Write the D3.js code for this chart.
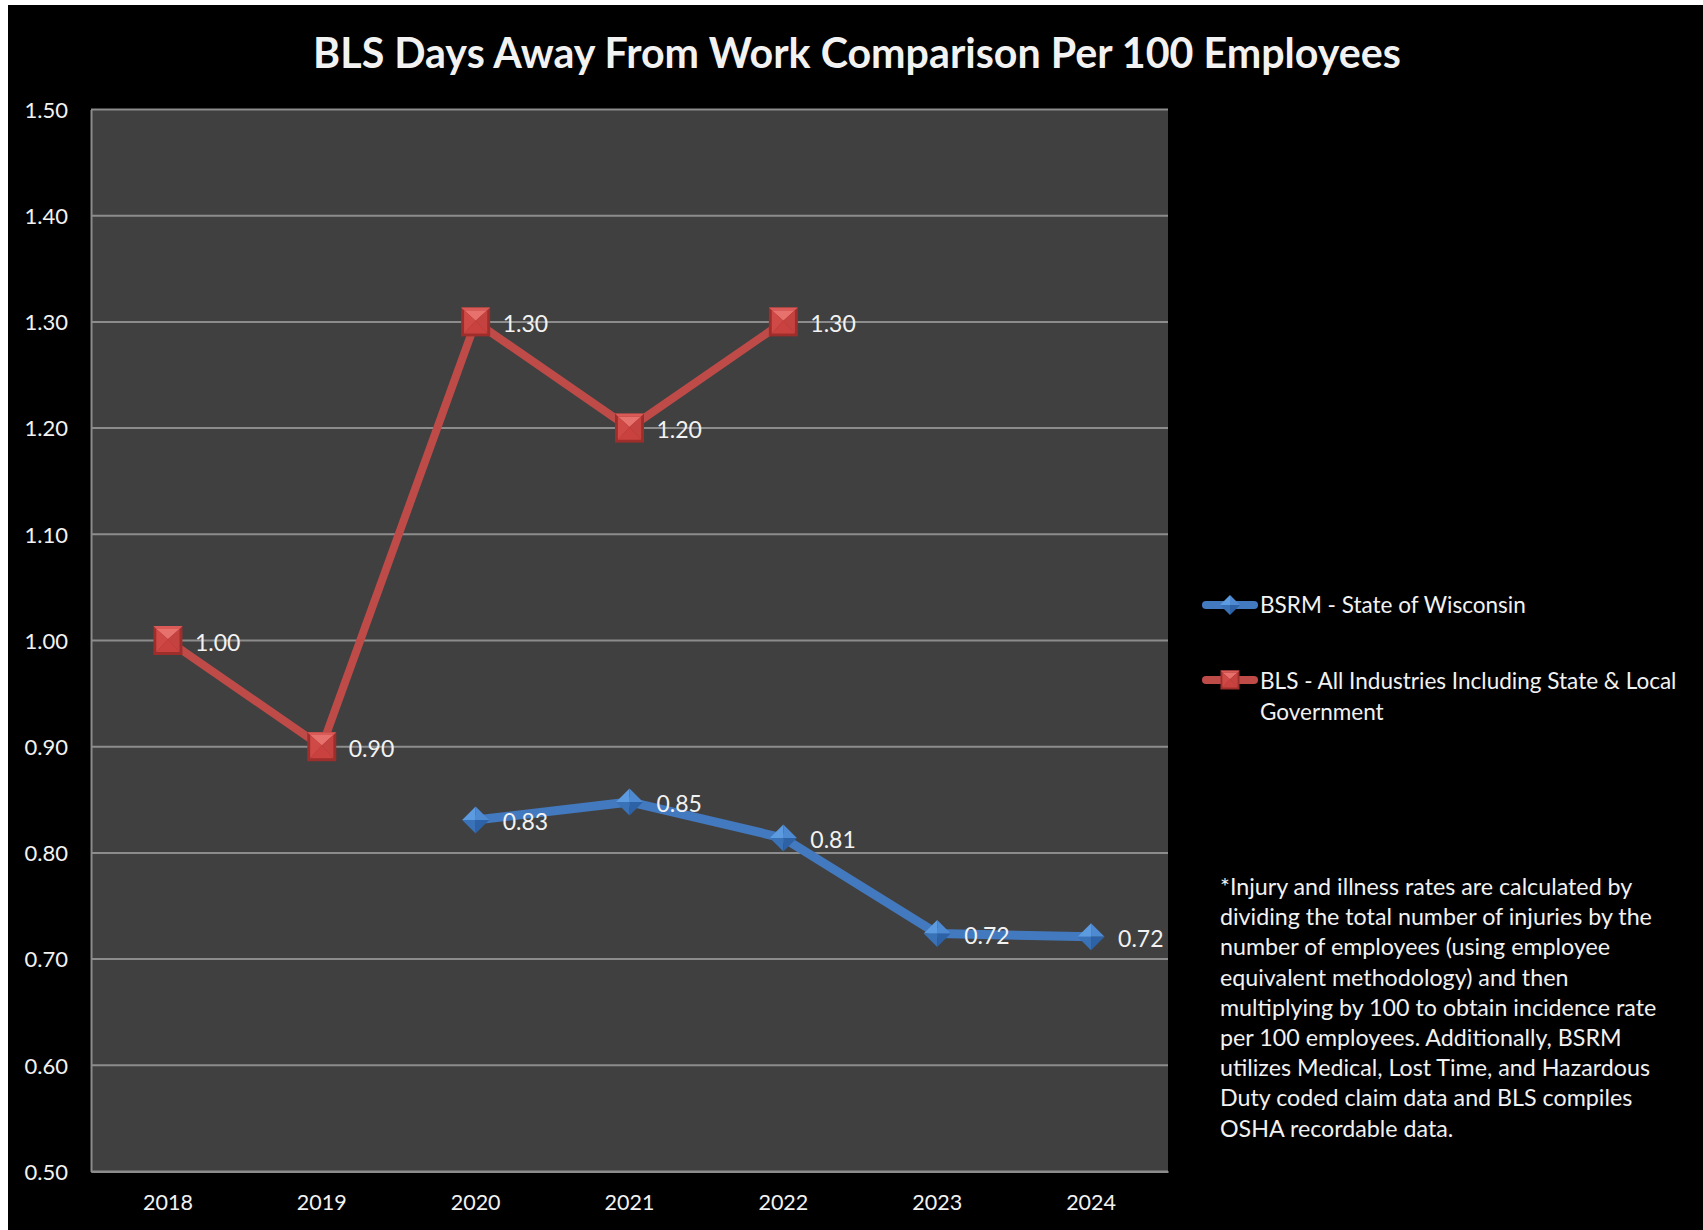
<!DOCTYPE html>
<html>
<head>
<meta charset="utf-8">
<script src="https://cdn.jsdelivr.net/npm/d3@7"></script>
<style>
  html, body { margin: 0; padding: 0; background: #ffffff; }
  svg { display: block; }
  text { font-family: Lato, "Open Sans", sans-serif; fill: #f2f2f2; }
</style>
</head>
<body>
<svg id="chart" width="1703" height="1230"></svg>
<script>
// ---- data ----
const titleText = "BLS Days Away From Work Comparison Per 100 Employees";
const years = ["2018", "2019", "2020", "2021", "2022", "2023", "2024"];
const bsrmValues = [null, null, 0.831, 0.848, 0.814, 0.724, 0.721];
const blsValues = [1.00, 0.90, 1.30, 1.20, 1.30, null, null];
const yTicks = [0.50, 0.60, 0.70, 0.80, 0.90, 1.00, 1.10, 1.20, 1.30, 1.40, 1.50];
const seriesNames = ["BSRM - State of Wisconsin", "BLS - All Industries Including State & Local", "Government"];
const footnoteLines = [
  "*Injury and illness rates are calculated by",
  "dividing the total number of injuries by the",
  "number of employees (using employee",
  "equivalent methodology) and then",
  "multiplying by 100 to obtain incidence rate",
  "per 100 employees. Additionally, BSRM",
  "utilizes Medical, Lost Time, and Hazardous",
  "Duty coded claim data and BLS compiles",
  "OSHA recordable data."
];

// ---- layout ----
const svg = d3.select("#chart");
const plot = { left: 91, right: 1168, top: 109.5, bottom: 1171.5 };
const blue = "#4379BF", red = "#BF4B48";

svg.append("rect").attr("x", 8).attr("y", 5).attr("width", 1695).attr("height", 1225).attr("fill", "#000");

const x = d3.scaleBand().domain(years).range([plot.left, plot.right]).paddingInner(0).paddingOuter(0);
const y = d3.scaleLinear().domain([0.5, 1.5]).range([plot.bottom, plot.top]);
const cx = d => x(d) + x.bandwidth() / 2;

function fit(sel, target) {
  const size = parseFloat(sel.attr("font-size"));
  const w = sel.node().getComputedTextLength();
  const ns = size * target / w;
  sel.attr("font-size", ns);
  return ns;
}

// title
const title = svg.append("text").attr("x", 857).attr("y", 52)
  .attr("text-anchor", "middle").attr("dominant-baseline", "central")
  .attr("font-size", 40).attr("font-weight", "bold").attr("fill", "#fff").text(titleText);
fit(title, 1088);

// plot background
svg.append("rect").attr("x", plot.left).attr("y", plot.top)
  .attr("width", plot.right - plot.left).attr("height", plot.bottom - plot.top).attr("fill", "#404040");

// gridlines
svg.append("g").selectAll("line").data(yTicks).join("line")
  .attr("x1", plot.left).attr("x2", plot.right)
  .attr("y1", d => y(d)).attr("y2", d => y(d))
  .attr("stroke", "#8c8c8c").attr("stroke-width", 2);

// axes
const yAxis = svg.append("g").attr("transform", `translate(${plot.left},0)`)
  .call(d3.axisLeft(y).tickValues(yTicks).tickFormat(d3.format(".2f")).tickSize(0).tickPadding(23));
yAxis.select(".domain").attr("stroke", "#8c8c8c").attr("stroke-width", 2);
yAxis.selectAll("text").attr("font-size", 22).attr("fill", "#f2f2f2")
  .attr("font-family", "Lato, sans-serif").attr("dy", "0.35em");

const xAxis = svg.append("g").attr("transform", `translate(0,${plot.bottom})`)
  .call(d3.axisBottom(x).tickSize(0).tickPadding(23));
xAxis.select(".domain").attr("stroke", "#8c8c8c").attr("stroke-width", 2);
xAxis.selectAll("text").attr("font-size", 21.5).attr("fill", "#f2f2f2")
  .attr("font-family", "Lato, sans-serif");

// markers
function square(g, s) {
  const h = s / 2, i = s * 0.1;
  g.append("rect").attr("x", -h).attr("y", -h).attr("width", s).attr("height", s).attr("fill", "#9e2e2b");
  const k = h - i;
  g.append("path").attr("d", `M${-k},${-k}L${k},${-k}L0,${-k * 0.1}Z`).attr("fill", "#e7716d");
  g.append("path").attr("d", `M${-k},${-k}L0,${-k * 0.1}L${-k},${k}Z`).attr("fill", "#cf4a46");
  g.append("path").attr("d", `M${k},${-k}L0,${-k * 0.1}L${k},${k}Z`).attr("fill", "#c44340");
  g.append("path").attr("d", `M${-k},${k}L0,${-k * 0.1}L${k},${k}Z`).attr("fill", "#c9423f");
  g.append("path").attr("d", `M${-h},${-h}L${h},${-h}L${k},${-k}L${-k},${-k}Z`).attr("fill", "#d95a56");
}
function diamond(g, s) {
  const h = s / 2;
  g.append("path").attr("d", `M0,${-h}L${-h},0L0,0Z`).attr("fill", "#5d9be0");
  g.append("path").attr("d", `M0,${-h}L${h},0L0,0Z`).attr("fill", "#4d8ad2");
  g.append("path").attr("d", `M${-h},0L0,${h}L0,0Z`).attr("fill", "#3a72b8");
  g.append("path").attr("d", `M${h},0L0,${h}L0,0Z`).attr("fill", "#2e62a6");
}

const fmt = d3.format(".2f");
function drawSeries(values, color, width, markerFn, msize) {
  const pts = years.map((yr, i) => ({ yr, v: values[i] }));
  const line = d3.line().defined(d => d.v != null).x(d => cx(d.yr)).y(d => y(d.v));
  svg.append("path").datum(pts).attr("d", line).attr("fill", "none")
    .attr("stroke", color).attr("stroke-width", width).attr("stroke-linejoin", "round");
  const def = pts.filter(d => d.v != null);
  svg.append("g").selectAll("g").data(def).join("g")
    .attr("transform", d => `translate(${cx(d.yr)},${y(d.v)})`)
    .each(function () { markerFn(d3.select(this), msize); });
  svg.append("g").selectAll("text").data(def).join("text")
    .attr("x", d => cx(d.yr) + 27).attr("y", d => y(d.v) + 1)
    .attr("dominant-baseline", "central").attr("font-size", 23).text(d => fmt(d.v));
}
drawSeries(blsValues, red, 8, square, 29);
drawSeries(bsrmValues, blue, 9, diamond, 27);

// legend
const leg = [
  { y: 605, color: blue, marker: diamond, ms: 20 },
  { y: 680, color: red, marker: square, ms: 19 }
];
leg.forEach(l => {
  svg.append("line").attr("x1", 1206).attr("x2", 1254).attr("y1", l.y).attr("y2", l.y)
    .attr("stroke", l.color).attr("stroke-width", 8).attr("stroke-linecap", "round");
  l.marker(svg.append("g").attr("transform", `translate(1230,${l.y})`), l.ms);
});
const lt1 = svg.append("text").attr("x", 1260).attr("y", 604).attr("dominant-baseline", "central")
  .attr("font-size", 22).text(seriesNames[0]);
const ls = fit(lt1, 266);
svg.append("text").attr("x", 1260).attr("y", 680).attr("dominant-baseline", "central")
  .attr("font-size", ls).text(seriesNames[1]);
svg.append("text").attr("x", 1260).attr("y", 711).attr("dominant-baseline", "central")
  .attr("font-size", ls).text(seriesNames[2]);

// footnote
const fnG = svg.append("g");
const fnTexts = fnG.selectAll("text").data(footnoteLines).join("text")
  .attr("x", 1220).attr("y", (d, i) => 886 + i * 30.2)
  .attr("dominant-baseline", "central").attr("font-size", 22).text(d => d);
const fs = fit(d3.select(fnTexts.nodes()[1]), 432);
fnTexts.attr("font-size", fs);
</script>
</body>
</html>
